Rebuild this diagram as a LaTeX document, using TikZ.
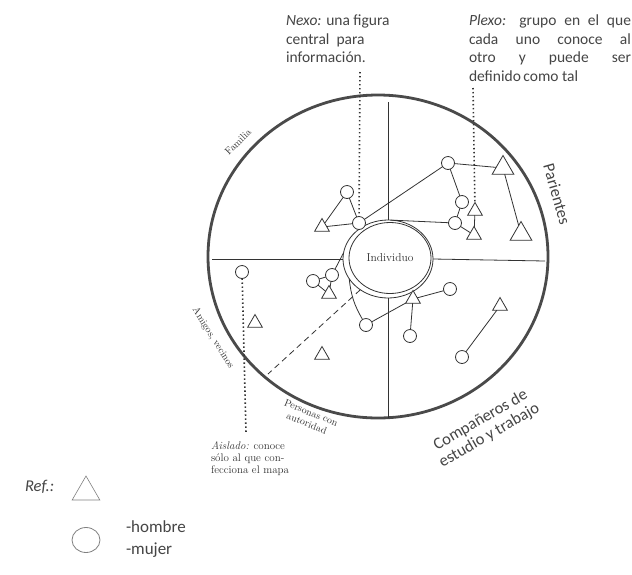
\documentclass[tikz,border=0pt]{standalone}
\usepackage{fontspec}
\newfontfamily\calib{Carlito}
\usetikzlibrary{shapes.geometric}
\definecolor{ink}{HTML}{333333}
\definecolor{rim}{HTML}{4A4A4A}
\definecolor{note}{HTML}{454545}
\begin{document}
\begin{tikzpicture}[x=1pt,y=-1pt,
  every node/.style={inner sep=0pt, outer sep=0pt},
  wom/.style={circle, draw=ink, line width=0.8pt, minimum size=13pt, fill=white},
  man/.style={regular polygon, regular polygon sides=3, draw=ink, line width=0.8pt, minimum size=17pt, fill=white},
  bigman/.style={man, minimum size=25pt},
  link/.style={draw=ink, line width=0.8pt},
  dots/.style={draw=ink, line width=1.6pt, dash pattern=on 1.4pt off 2.6pt},
  lbl/.style={text=ink, font=\fontsize{10}{11.5}\selectfont},
  notetext/.style={text=note, font=\calib\fontsize{15.5}{18.5}\selectfont},
  bignote/.style={text=note, font=\calib\fontsize{16.5}{17.5}\selectfont},
]
\useasboundingbox[fill=white] (0,0) rectangle (632,574);

% outer circle and Individuo
\node[ellipse, draw=rim, line width=2.8pt, minimum width=340pt, minimum height=323pt] (world) at (378,256.5) {};
\node[ellipse, draw=ink, line width=0.8pt, minimum width=90pt, minimum height=78pt] (ind) at (388,259) {};
\node[ellipse, draw=ink, line width=0.8pt, minimum width=82pt, minimum height=71pt, font=\fontsize{11.5}{13}\selectfont, text=ink] (indin) at (390,258) {Individuo};

% free ends
\coordinate (topend) at (388,102);
\coordinate (botend) at (388,418);
\coordinate (leftend) at (212,259);
\coordinate (rightend) at (545,261);
\coordinate (nexotop) at (360,72);
\coordinate (plexotop) at (473,88);
\coordinate (aislend) at (246,433);
\coordinate (dashend) at (268,374);

% persons
\node[wom] (A) at (359,223) {};
\node[wom] (B) at (347,192) {};
\node[man] (C) at (322,227) {};
\node[wom] (D) at (448,163) {};
\node[bigman] (E) at (503,168) {};
\node[bigman] (F) at (521,234) {};
\node[wom] (G) at (462,202) {};
\node[man] (H) at (475,211) {};
\node[wom] (I) at (455,223) {};
\node[man] (J) at (474,235) {};
\node[wom] (K) at (332,275) {};
\node[wom] (L) at (313,281) {};
\node[man] (M) at (329,294) {};
\node[wom] (N) at (450,289) {};
\node[man] (O) at (413,299) {};
\node[wom] (P) at (366,325) {};
\node[wom] (Q) at (410,336) {};
\node[man] (R) at (500,306) {};
\node[wom] (S) at (462,357) {};
\node[wom] (T) at (242,272) {};
\node[man] (U) at (255,323) {};
\node[man] (V) at (322,355) {};

% quadrant lines
\draw[link] (ind.north) -- (topend);
\draw[link] (ind.south) -- (botend);
\draw[link] (ind.west) -- (leftend);
\draw[link] (ind.east) -- (rightend);

% connectors
\draw[link] (A) -- (B);
\draw[link] (B) -- (C);
\draw[link] (C) -- (A);
\draw[link] (A) -- (D);
\draw[link] (D) -- (E);
\draw[link] (D) -- (G);
\draw[link] (G) -- (I);
\draw[link] (I) -- (J);
\draw[link] (H) -- (J);
\draw[link] (E) -- (F);
\draw[link] (ind.85) -- (I);
\draw[link] (K) -- (L);
\draw[link] (L) -- (M);
\draw[link] (K) -- (M);
\draw[link] (K) -- (ind.172);
\draw[link] (P) to[bend left=12] (ind.207);
\draw[link] (P) -- (O);
\draw[link] (O) -- (N);
\draw[link] (O) -- (Q);
\draw[link] (R) -- (S);
\draw[link, dash pattern=on 6pt off 4pt] (ind.228) -- (dashend);

% dotted pointers
\draw[dots] (nexotop) -- (A);
\draw[dots] (plexotop) -- (H);
\draw[dots] (T) -- (aislend);

% notes
\node[notetext, anchor=north west, align=left] (nexo) at (286,15) {\textit{Nexo:} una figura\\central\ \ para\\información.};
\node[notetext, anchor=north west, align=left] (plexo) at (469,15) {\makebox[162pt][s]{\textit{Plexo:} grupo en el que}\\\makebox[162pt][s]{cada uno conoce al}\\\makebox[162pt][s]{otro y puede ser}\\definido\,como tal};

% sector labels
\node[lbl, rotate=45] (fam) at (238,142) {Familia};
\node[lbl, rotate=-58] (ami) at (213,338) {Amigos, vecinos};
\node[lbl, rotate=-22, align=center] (pers) at (309,418) {Personas con\\autoridad};
\node[lbl, font=\fontsize{11}{11.8}\selectfont, anchor=north west, align=left] (ais) at (211,442) {\textit{Aislado:} conoce\\sólo al que con-\\fecciona el mapa};
\node[bignote, rotate=-74] (par) at (557,194) {Parientes};
\node[bignote, rotate=30, align=center] (comp) at (485,428) {Compañeros de\\estudio y trabajo};

% legend
\node[text=note, anchor=base west, font=\calib\fontsize{16.5}{18}\itshape] (ref) at (25,491) {Ref.:};
\node[regular polygon, regular polygon sides=3, draw=gray, line width=0.6pt, minimum size=32pt] (ltri) at (86,492) {};
\node[text=note, anchor=base west, font=\calib\fontsize{17}{18}\selectfont] (lman) at (126,532) {-hombre};
\node[ellipse, draw=gray, line width=0.8pt, minimum width=28pt, minimum height=25pt] (lcirc) at (86,540) {};
\node[text=note, anchor=base west, font=\calib\fontsize{17}{18}\selectfont] (lwom) at (126,554) {-mujer};
\end{tikzpicture}
\end{document}
